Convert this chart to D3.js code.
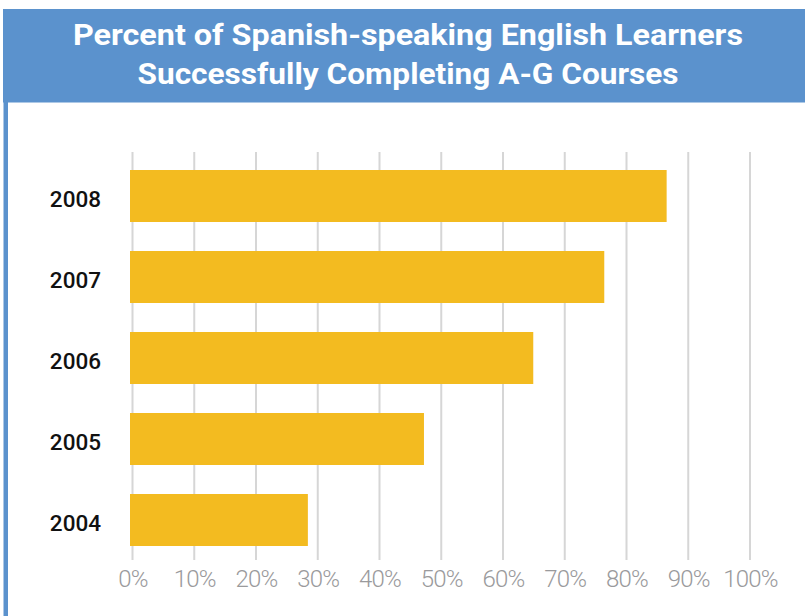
<!DOCTYPE html>
<html><head><meta charset="utf-8">
<script src="https://cdn.jsdelivr.net/npm/d3@7"></script>
<style>body{margin:0;background:#fff;}svg{display:block;}</style>
</head><body>
<script>
const titleLines = ["Percent of Spanish-speaking English Learners", "Successfully Completing A-G Courses"];
const years = ["2008", "2007", "2006", "2005", "2004"];
const values = [86.5, 76.4, 64.9, 47.2, 28.4];
const tickValues = [0, 10, 20, 30, 40, 50, 60, 70, 80, 90, 100];

const W = 805, H = 616;
const svg = d3.select("body").append("svg").attr("width", W).attr("height", H);

// frame
svg.append("rect").attr("x", 3).attr("y", 9).attr("width", W - 3).attr("height", 93.5).attr("fill", "#5b92cd");
svg.append("rect").attr("x", 3.5).attr("y", 100).attr("width", 4.5).attr("height", H - 100).attr("fill", "#5b92cd");

// title
const tl = svg.append("g");
const titleWidths = [670, 541];
const titleBase = [45, 84];
titleLines.forEach((t, i) => {
  tl.append("text").attr("x", 408).attr("y", titleBase[i]).attr("text-anchor", "middle")
    .attr("font-family", "Roboto, sans-serif").attr("font-weight", 700).attr("font-size", 30)
    .attr("fill", "#fff").attr("textLength", titleWidths[i]).attr("lengthAdjust", "spacingAndGlyphs")
    .text(t);
});

const x = d3.scaleLinear().domain([0, 100]).range([132.5, 750]);
const y = d3.scaleBand().domain(years).range([155.5, 560.5]).paddingInner(0.358).paddingOuter(0.179);

// gridlines
svg.append("g").selectAll("line").data(tickValues).join("line")
  .attr("x1", d => x(d)).attr("x2", d => x(d)).attr("y1", 152).attr("y2", 560)
  .attr("stroke", "#d6d6d6").attr("stroke-width", 2);

// bars
svg.append("g").selectAll("rect").data(years).join("rect")
  .attr("x", 130).attr("y", d => y(d)).attr("height", y.bandwidth())
  .attr("width", (d, i) => x(values[i]) - 130)
  .attr("fill", "#f3bb20");

// y labels
svg.append("g").selectAll("text").data(years).join("text")
  .attr("x", 101).attr("y", d => y(d) + y.bandwidth() / 2 + 10.5)
  .attr("text-anchor", "end").attr("font-family", "Roboto, sans-serif").attr("font-weight", 500)
  .attr("font-size", 22.5).attr("fill", "#111").text(d => d);

// x tick labels
const xAxis = d3.axisBottom(x).tickValues(tickValues).tickFormat(d => d + "%").tickSize(0).tickPadding(0);
const ax = svg.append("g").attr("transform", "translate(0,569)").call(xAxis);
ax.select(".domain").remove();
ax.selectAll("text").attr("dy", null).attr("y", 17.5)
  .attr("font-family", "Roboto, sans-serif").attr("font-weight", 300).attr("font-size", 24)
  .attr("letter-spacing", "-0.8px").attr("fill", "#9a9a9c");
</script>
</body></html>
